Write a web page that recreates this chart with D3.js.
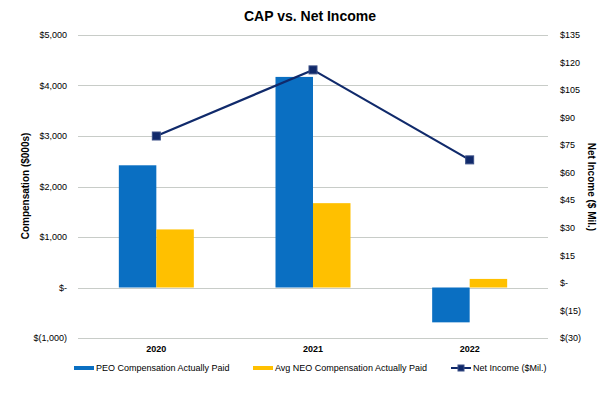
<!DOCTYPE html>
<html>
<head>
<meta charset="utf-8">
<script src="https://cdn.jsdelivr.net/npm/d3@7"></script>
<style>
  body { margin: 0; background: #fff; }
  text { font-family: "Liberation Sans", Arial, sans-serif; fill: #000; }
</style>
</head>
<body>
<div id="chart"></div>
<script>
// data
const years = ["2020", "2021", "2022"];
const peoCap = [2420, 4170, -690];
const neoCap = [1150, 1670, 170];
const netIncome = [80, 116, 67];
const leftTicks = [-1000, 0, 1000, 2000, 3000, 4000, 5000];
const rightTicks = [-30, -15, 0, 15, 30, 45, 60, 75, 90, 105, 120, 135];

const width = 606, height = 393;
const plot = { left: 78, right: 548, top: 35, bottom: 338 };

const svg = d3
  .select("#chart")
  .append("svg")
  .attr("width", width)
  .attr("height", height);

const x = d3.scaleBand().domain(years).range([plot.left, plot.right]);
const yL = d3.scaleLinear().domain([-1000, 5000]).range([plot.bottom, plot.top]);
const yR = d3.scaleLinear().domain([-30, 135]).range([plot.bottom, plot.top]);
const barW = 37.5;

const fmtL = (v) =>
  v === 0 ? "$-" : v < 0 ? "$(" + d3.format(",")(-v) + ")" : "$" + d3.format(",")(v);
const fmtR = (v) => (v === 0 ? "$-" : v < 0 ? "$(" + -v + ")" : "$" + v);

// gridlines
svg
  .append("g")
  .selectAll("line")
  .data(leftTicks)
  .join("line")
  .attr("x1", plot.left)
  .attr("x2", plot.right)
  .attr("y1", (d) => Math.round(yL(d)) + 0.5)
  .attr("y2", (d) => Math.round(yL(d)) + 0.5)
  .attr("stroke", "#c8ccc8")
  .attr("stroke-width", 1);

// left axis labels
svg
  .append("g")
  .selectAll("text")
  .data(leftTicks)
  .join("text")
  .attr("x", 67)
  .attr("y", (d) => yL(d))
  .attr("dy", "0.35em")
  .attr("text-anchor", "end")
  .style("font-size", "9px")
  .text(fmtL);

// right axis labels
svg
  .append("g")
  .selectAll("text")
  .data(rightTicks)
  .join("text")
  .attr("x", 560)
  .attr("y", (d) => yR(d))
  .attr("dy", "0.35em")
  .attr("text-anchor", "start")
  .style("font-size", "9px")
  .text(fmtR);

// bars
svg
  .append("g")
  .selectAll("rect")
  .data(peoCap)
  .join("rect")
  .attr("x", (d, i) => x(years[i]) + x.bandwidth() / 2 - barW)
  .attr("y", (d) => yL(Math.max(0, d)))
  .attr("width", barW)
  .attr("height", (d) => Math.abs(yL(d) - yL(0)))
  .attr("fill", "#0a6fc2");

svg
  .append("g")
  .selectAll("rect")
  .data(neoCap)
  .join("rect")
  .attr("x", (d, i) => x(years[i]) + x.bandwidth() / 2)
  .attr("y", (d) => yL(Math.max(0, d)))
  .attr("width", barW)
  .attr("height", (d) => Math.abs(yL(d) - yL(0)))
  .attr("fill", "#ffc000");

// net income line
const line = d3
  .line()
  .x((d, i) => x(years[i]) + x.bandwidth() / 2)
  .y((d) => yR(d));

svg
  .append("path")
  .datum(netIncome)
  .attr("d", line)
  .attr("fill", "none")
  .attr("stroke", "#102a6b")
  .attr("stroke-width", 2.25);

svg
  .append("g")
  .selectAll("rect")
  .data(netIncome)
  .join("rect")
  .attr("x", (d, i) => x(years[i]) + x.bandwidth() / 2 - 4)
  .attr("y", (d) => yR(d) - 4)
  .attr("width", 8)
  .attr("height", 8)
  .attr("fill", "#10296a")
  .attr("stroke", "#3a4f86")
  .attr("stroke-width", 1);

// category labels
svg
  .append("g")
  .selectAll("text")
  .data(years)
  .join("text")
  .attr("x", (d) => x(d) + x.bandwidth() / 2)
  .attr("y", 352)
  .attr("text-anchor", "middle")
  .style("font-size", "9px")
  .style("font-weight", "bold")
  .text((d) => d);

// title
svg
  .append("text")
  .attr("x", 310)
  .attr("y", 21)
  .attr("text-anchor", "middle")
  .style("font-size", "14px")
  .style("font-weight", "bold")
  .text("CAP vs. Net Income");

// axis titles
svg
  .append("text")
  .attr("transform", "translate(29, 186) rotate(-90)")
  .attr("text-anchor", "middle")
  .style("font-size", "10px")
  .style("font-weight", "bold")
  .text("Compensation ($000s)");

svg
  .append("text")
  .attr("transform", "translate(588, 187) rotate(90)")
  .attr("text-anchor", "middle")
  .style("font-size", "10px")
  .style("font-weight", "bold")
  .text("Net Income ($ Mil.)");

// legend
const legend = svg.append("g").attr("transform", "translate(0, 368)");
const legendItems = [
  { label: "PEO Compensation Actually Paid", x: 74, type: "bar", color: "#0a6fc2" },
  { label: "Avg NEO Compensation Actually Paid", x: 253, type: "bar", color: "#ffc000" },
  { label: "Net Income ($Mil.)", x: 451, type: "line", color: "#102a6b" },
];

legendItems.forEach(function (d) {
  if (d.type === "bar") {
    legend
      .append("rect")
      .attr("x", d.x)
      .attr("y", -2)
      .attr("width", 20)
      .attr("height", 4)
      .attr("fill", d.color);
  } else {
    legend
      .append("line")
      .attr("x1", d.x)
      .attr("x2", d.x + 20)
      .attr("y1", 0)
      .attr("y2", 0)
      .attr("stroke", d.color)
      .attr("stroke-width", 2);
    legend
      .append("rect")
      .attr("x", d.x + 7)
      .attr("y", -3)
      .attr("width", 6)
      .attr("height", 6)
      .attr("fill", "#10296a")
      .attr("stroke", "#3a4f86");
  }
  legend
    .append("text")
    .attr("x", d.x + 22)
    .attr("y", 0)
    .attr("dy", "0.35em")
    .style("font-size", "9px")
    .text(d.label);
});
</script>
</body>
</html>
